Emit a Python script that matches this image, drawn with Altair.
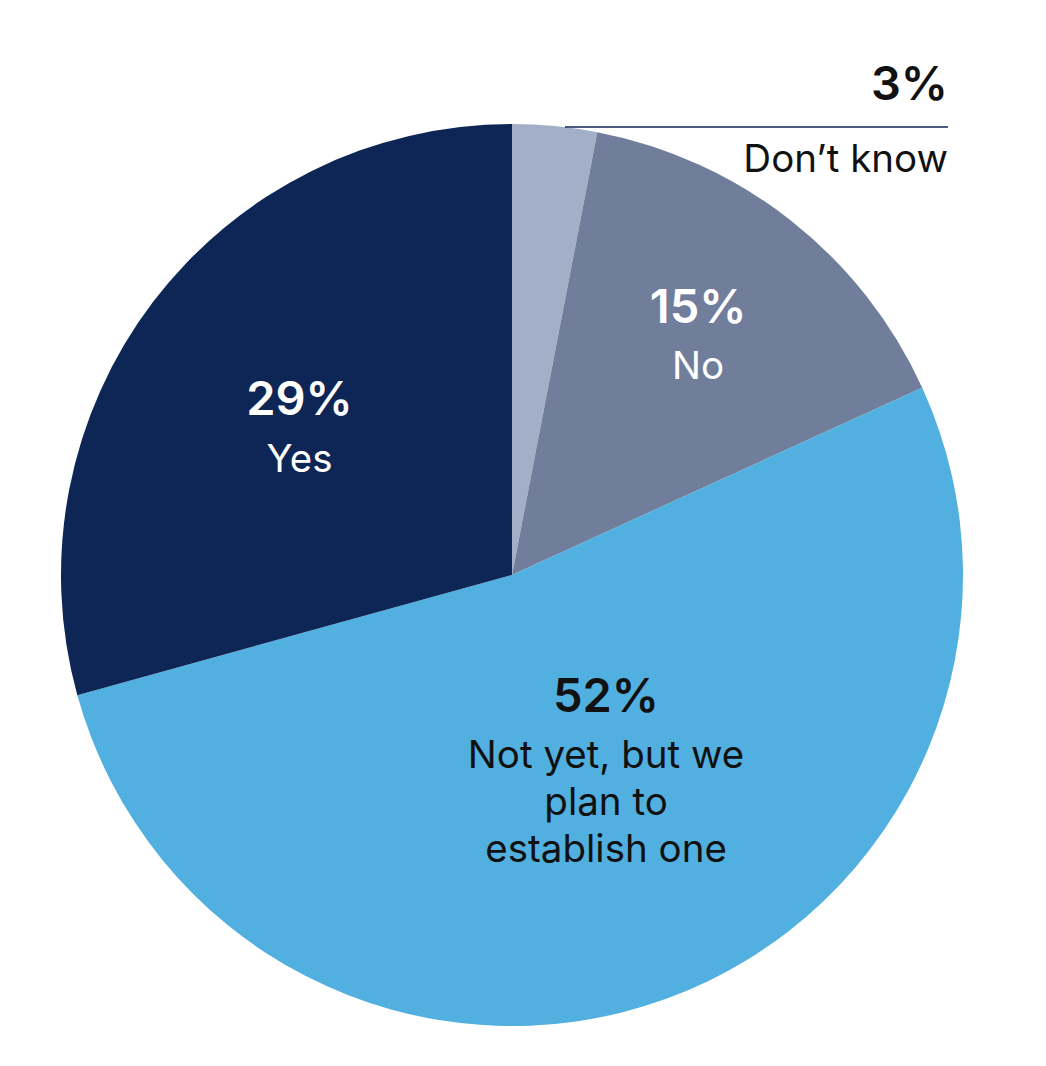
import altair as alt
import pandas as pd

categories = ["Don’t know", "No", "Not yet, but we plan to establish one", "Yes"]
display_names = ["Don’t know", "No", "Not yet, but we\nplan to\nestablish one", "Yes"]
values = [3, 15, 52, 29]
colors = ["#a2afc7", "#707e9b", "#52b0e0", "#0e2655"]

df = pd.DataFrame({
    "cat": categories,
    "name": display_names,
    "value": values,
    "idx": list(range(len(categories))),
})
total = sum(values)

CX, CY, R = 512, 575, 451
FONT = "Inter"
theta_scale = alt.Scale(domain=[0, total])

pie = alt.Chart(df).mark_arc(radius=R, strokeWidth=0).encode(
    theta=alt.Theta("value:Q", stack=True, scale=theta_scale),
    order=alt.Order("idx:Q", sort="ascending"),
    color=alt.Color("cat:N", scale=alt.Scale(domain=categories, range=colors), legend=None),
    x=alt.value(CX),
    y=alt.value(CY),
)

text_base = (
    alt.Chart(df)
    .transform_window(cum="sum(value)", sort=[alt.SortField("idx", order="ascending")], frame=[None, 0])
    .transform_calculate(mid="datum.cum - datum.value / 2", pct="datum.value + '%'")
)

# label placement per slice: (index, radius, dy for percent, dy for name, text colour)
placements = [
    (3, 267, 2, 59, "#ffffff"),
    (1, 301, -15, 41, "#ffffff"),
    (2, 275, -121, -65, "#111111"),
]

NAME_SIZE = 38.5

layers = [pie]
for i, r, dyp, dyn, col in placements:
    sub = text_base.transform_filter(alt.datum.idx == i)
    enc = dict(
        theta=alt.Theta("mid:Q", scale=theta_scale, stack=None),
        x=alt.value(CX),
        y=alt.value(CY),
    )
    layers.append(
        sub.mark_text(radius=r, dy=dyp, font=FONT, fontSize=47, fontWeight=600,
                      color=col, align="center", baseline="alphabetic")
        .encode(text="pct:N", **enc)
    )
    layers.append(
        sub.mark_text(radius=r, dy=dyn, font=FONT, fontSize=NAME_SIZE, fontWeight="normal",
                      color=col, align="center", baseline="alphabetic", lineBreak="\n", lineHeight=47)
        .encode(text="name:N", **enc)
    )

# outside annotation for the smallest slice
dk = text_base.transform_filter(alt.datum.idx == 0)
layers.append(
    dk.mark_rule(color="#0e2655", strokeWidth=1.5).encode(
        x=alt.value(565), x2=alt.value(948), y=alt.value(127)
    )
)
layers.append(
    dk.mark_text(font=FONT, fontSize=47, fontWeight=600, color="#111111",
                 align="right", baseline="alphabetic")
    .encode(text="pct:N", x=alt.value(948), y=alt.value(100))
)
layers.append(
    dk.mark_text(font=FONT, fontSize=NAME_SIZE, color="#111111", align="right", baseline="alphabetic")
    .encode(text="name:N", x=alt.value(948), y=alt.value(172))
)

chart = (
    alt.layer(*layers)
    .properties(width=1046, height=1066, autosize=alt.AutoSizeParams(type="none"), padding=0,
                background="white")
    .configure_view(stroke=None)
)

chart.save("out.html", embed_options={"renderer": "svg", "actions": False})
